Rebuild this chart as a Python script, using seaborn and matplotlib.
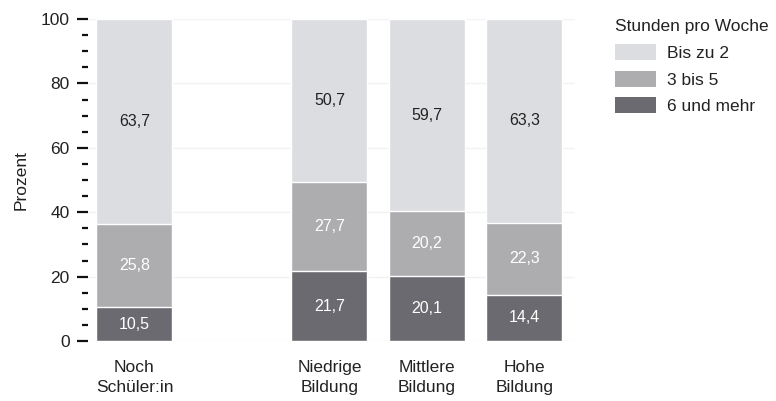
import matplotlib.pyplot as plt
import numpy as np
import pandas as pd
import seaborn as sns
from matplotlib.patches import Patch
from matplotlib.ticker import MultipleLocator

# Data
categories = ["Noch\nSchüler:in", "Niedrige\nBildung", "Mittlere\nBildung", "Hohe\nBildung"]
positions = [0, 2, 3, 4]
series = ["Bis zu 2", "3 bis 5", "6 und mehr"]
bis_zu_2 = [63.7, 50.7, 59.7, 63.3]
drei_bis_5 = [25.8, 27.7, 20.2, 22.3]
sechs_und_mehr = [10.5, 21.7, 20.1, 14.4]

colors = {"Bis zu 2": "#dcdde0", "3 bis 5": "#adadb0", "6 und mehr": "#6b6a70"}
text_colors = {"Bis zu 2": "#222222", "3 bis 5": "white", "6 und mehr": "white"}

sns.set_style("white")
plt.rcParams["font.family"] = ["Liberation Sans", "DejaVu Sans"]

df = pd.DataFrame({
    "pos": positions,
    "Bis zu 2": bis_zu_2,
    "3 bis 5": drei_bis_5,
    "6 und mehr": sechs_und_mehr,
})
# stack from the bottom: 6 und mehr, 3 bis 5, Bis zu 2
stack_order = ["6 und mehr", "3 bis 5", "Bis zu 2"]
cum = df[stack_order].cumsum(axis=1)
bottoms = cum - df[stack_order]

fig = plt.figure(figsize=(7.76, 4.01), dpi=100)
ax = fig.add_axes([0.113, 0.1496, 0.628, 0.803])

# draw cumulative bars back to front so they appear stacked
for name in reversed(stack_order):
    tmp = pd.DataFrame({"pos": df["pos"], "top": cum[name]})
    sns.barplot(
        data=tmp, x="pos", y="top", native_scale=True, width=0.78,
        color=colors[name], saturation=1, edgecolor="white", linewidth=1,
        ax=ax, zorder=2,
    )

# segment labels
for name in stack_order:
    for i, p in enumerate(df["pos"]):
        val = df[name][i]
        ymid = bottoms[name][i] + val / 2
        ax.text(p, ymid, f"{val:.1f}".replace(".", ","), ha="center", va="center",
                fontsize=11.5, color=text_colors[name], zorder=3)

ax.set_xlim(-0.48, 4.52)
ax.set_ylim(0, 100)
ax.set_xticks(positions)
ax.set_xticklabels(categories, fontsize=12.5, color="#222222", linespacing=1.35)
ax.set_xlabel("")
ax.set_ylabel("Prozent", fontsize=12.5, color="#222222", labelpad=9)

ax.yaxis.set_major_locator(MultipleLocator(20))
ax.yaxis.set_minor_locator(MultipleLocator(5))
ax.tick_params(axis="y", which="major", length=8, width=1.6, color="#111111",
               labelsize=12.5, labelcolor="#222222", pad=5, left=True)
ax.tick_params(axis="y", which="minor", length=4, width=1.6, color="#111111", left=True)
ax.tick_params(axis="x", length=0, pad=14)
for t in ax.yaxis.get_major_ticks() + ax.yaxis.get_minor_ticks():
    t.tick1line.set_clip_on(False)

ax.grid(axis="y", which="major", color="#f2f2f2", linewidth=1, zorder=0)
ax.set_axisbelow(True)
for s in ax.spines.values():
    s.set_visible(False)

handles = [Patch(facecolor=colors[n], edgecolor="none", label=n) for n in series]
leg = ax.legend(
    handles=handles, title="Stunden pro Woche", loc="upper left",
    bbox_to_anchor=(1.051, 1.048), frameon=False, fontsize=12.5, title_fontsize=12.5,
    handlelength=2.35, handleheight=1.05, handletextpad=0.6, labelspacing=0.56,
    alignment="left",
)
leg.get_title().set_color("#222222")
for txt in leg.get_texts():
    txt.set_color("#222222")

fig.savefig("out.png", dpi=100)
